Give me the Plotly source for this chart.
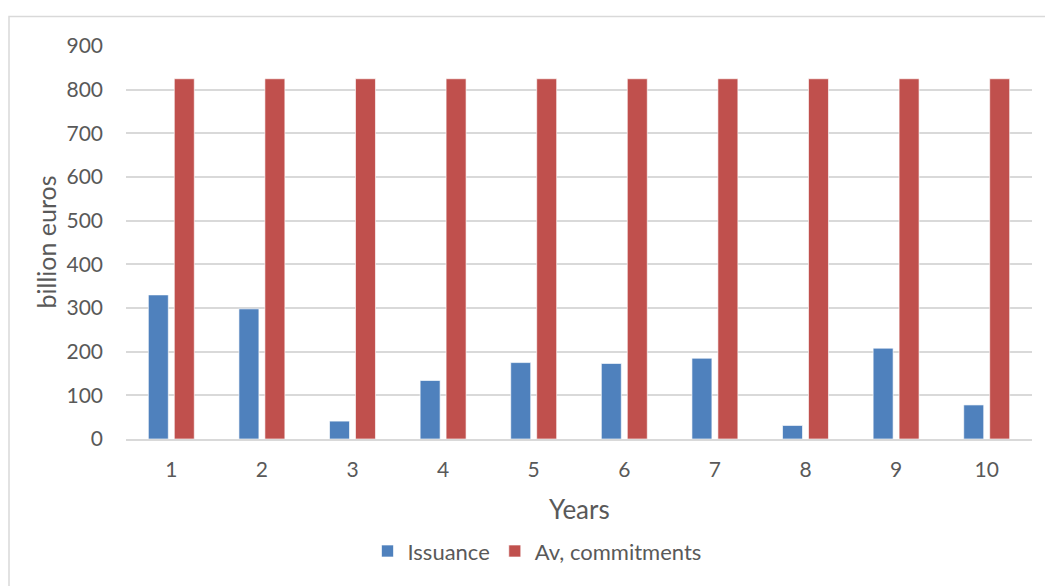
import plotly.graph_objects as go

# Yearly values, billion euros
years = ["1", "2", "3", "4", "5", "6", "7", "8", "9", "10"]
issuance = [330, 298, 41, 134, 175, 173, 185, 31, 208, 78]
av_commitments = [825, 825, 825, 825, 825, 825, 825, 825, 825, 825]
y_ticks = [0, 100, 200, 300, 400, 500, 600, 700, 800, 900]

FONT = "Lato, 'Open Sans', sans-serif"
TXT = "#595959"
BLUE = "#4f81bd"
RED = "#c0504d"

fig = go.Figure()
fig.add_trace(go.Bar(
    x=years, y=issuance, name="Issuance",
    marker=dict(color=BLUE, line=dict(color="rgba(255,255,255,0.8)", width=0.8)),
))
fig.add_trace(go.Bar(
    x=years, y=av_commitments, name="Av, commitments",
    marker=dict(color=RED, line=dict(color="rgba(255,255,255,0.8)", width=0.8)),
))

L, R, T, B = 126, 1045 - 1032, 45.5, 586 - 439.5
W, H = 1045 - L - R, 586 - T - B

fig.update_layout(
    width=1045, height=586,
    margin=dict(l=L, r=R, t=T, b=B, pad=0),
    paper_bgcolor="white", plot_bgcolor="white",
    barmode="group", bargap=0.427, bargroupgap=0.23,
    font=dict(family=FONT, color=TXT, size=20),
    showlegend=True,
    legend=dict(
        orientation="h", x=(537 - L) / W, xanchor="center",
        y=(439.5 - 552) / H, yanchor="middle",
        font=dict(size=22, color=TXT), itemwidth=30,
        traceorder="normal",
    ),
    xaxis=dict(
        type="category", showgrid=False, showline=True,
        linecolor="#d9d9d9", linewidth=1.5, ticks="",
        tickfont=dict(size=21, color=TXT), ticklabelstandoff=11,
    ),
    yaxis=dict(
        range=[0, 900], tickvals=y_ticks, showgrid=True,
        gridcolor="#d9d9d9", gridwidth=1.5, zeroline=False,
        showline=False, ticks="", tickfont=dict(size=21, color=TXT),
        ticklabelstandoff=22,
    ),
    annotations=[
        dict(text="billion euros", xref="paper", yref="paper",
             x=(45 - L) / W, y=0.5, textangle=-90, showarrow=False,
             xanchor="center", yanchor="middle",
             font=dict(size=25, color=TXT, family=FONT)),
        dict(text="Years", xref="paper", yref="paper",
             x=(579 - L) / W, y=(439.5 - 510) / H, showarrow=False,
             xanchor="center", yanchor="middle",
             font=dict(size=26, color=TXT, family=FONT)),
    ],
    shapes=[
        dict(type="rect", xref="paper", yref="paper", layer="below",
             x0=(9 - L) / W, x1=(1060 - L) / W,
             y0=(439.5 - 600) / H, y1=(439.5 - 16) / H,
             line=dict(color="#d9d9d9", width=1.5), fillcolor="rgba(0,0,0,0)"),
    ],
)

fig.write_html("out.html")
